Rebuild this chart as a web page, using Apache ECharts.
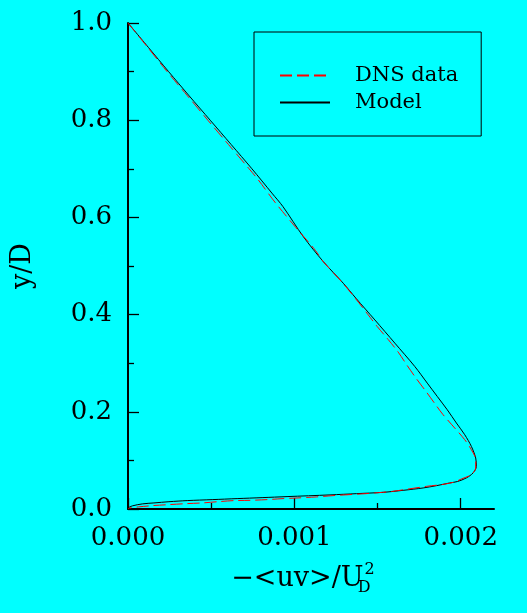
<!DOCTYPE html>
<html>
<head>
<meta charset="utf-8">
<script src="https://cdn.jsdelivr.net/npm/echarts@6.0.0/dist/echarts.min.js"></script>
<style>
html,body{margin:0;padding:0;background:#00FFFF;}
#chart{width:527px;height:613px;}
</style>
</head>
<body>
<div id="chart"></div>
<script>
// Model curve: -<uv>/U_D^2 (x) vs y/D (y), in drawing order
var modelX = [0, 0.000122, 0.000244, 0.000368, 0.000494, 0.00062, 0.000745, 0.000865, 0.000932, 0.001054,
  0.001174, 0.001294, 0.00137, 0.001484, 0.001604, 0.001724, 0.001799, 0.001859, 0.001919, 0.001974,
  0.002024, 0.002064, 0.00209, 0.002094, 0.002074, 0.002034, 0.00198, 0.001934, 0.001854, 0.001774,
  0.001654, 0.001534, 0.001374, 0.001214, 0.000956, 0.000806, 0.000656, 0.000506, 0.000356, 0.000246,
  0.000156, 0.000086, 0.000026, 0];
var modelY = [1.0, 0.95, 0.9, 0.85, 0.8, 0.75, 0.7, 0.65, 0.622, 0.5603,
  0.509, 0.4645, 0.4337, 0.389, 0.3413, 0.2932, 0.259, 0.2316, 0.2042, 0.1769,
  0.1529, 0.1288, 0.105, 0.0877, 0.0742, 0.0639, 0.0565, 0.0536, 0.048, 0.0433,
  0.0384, 0.0343, 0.0316, 0.029, 0.0255, 0.0234, 0.0214, 0.0193, 0.0173, 0.015,
  0.0125, 0.0105, 0.0064, 0.0023];

// DNS data
var dnsX = [0, 0.000118, 0.000235, 0.000358, 0.00048, 0.000604, 0.000728, 0.000784, 0.000884, 0.001008,
  0.001074, 0.001128, 0.001174, 0.001292, 0.001366, 0.001444, 0.001498, 0.001564, 0.001624, 0.001678,
  0.001734, 0.001794, 0.001848, 0.001894, 0.001964, 0.002024, 0.002064, 0.00209, 0.00209, 0.002064,
  0.002004, 0.001964, 0.001894, 0.001794, 0.001592, 0.001508, 0.00143, 0.001334, 0.001232, 0.001134,
  0.001022, 0.000932, 0.000836, 0.000734, 0.000638, 0.000546, 0.000446, 0.00035, 0.000246, 0.00015,
  0.000062, 0.00001, 0];
var dnsY = [1.0, 0.95, 0.9, 0.85, 0.8, 0.75, 0.7, 0.6768, 0.631, 0.5796,
  0.5535, 0.5315, 0.509, 0.4645, 0.4337, 0.3995, 0.3754, 0.3487, 0.3228, 0.2953,
  0.2679, 0.2406, 0.2151, 0.194, 0.1666, 0.1426, 0.122, 0.1015, 0.0844, 0.0707,
  0.0618, 0.0557, 0.0507, 0.0466, 0.0364, 0.0337, 0.0316, 0.0296, 0.0275, 0.0249,
  0.0228, 0.0214, 0.0193, 0.0179, 0.0173, 0.0152, 0.0125, 0.011, 0.009, 0.007,
  0.0043, 0.002, 0];

var xMajorTicks = [0, 0.001, 0.002];
var xMinorTicks = [0.0005, 0.0015];
var seriesNames = ['DNS data', 'Model'];

function pairs(xs, ys) { return xs.map(function (x, i) { return [x, ys[i]]; }); }

var FONT = 'DejaVu Serif';
var chart = echarts.init(document.getElementById('chart'), null, {renderer: 'canvas'});
var tickStyle = {color: '#000', width: 1.3};

chart.setOption({
  backgroundColor: '#00FFFF',
  animation: false,
  grid: {left: 128, right: 33, top: 23, bottom: 104, containLabel: false},
  legend: {
    orient: 'vertical', left: 254, top: 32,
    padding: [33, 23, 23, 25],
    borderColor: '#000', borderWidth: 1,
    itemWidth: 50, itemHeight: 14, itemGap: 6,
    itemStyle: {opacity: 0},
    textStyle: {fontFamily: FONT, fontSize: 21, color: '#000', padding: [0, 0, 0, 20]},
    data: seriesNames
  },
  xAxis: [{
    type: 'value', min: 0, max: 0.0022, interval: 0.001, position: 'bottom',
    axisLine: {lineStyle: {color: '#000', width: 2}},
    axisTick: {inside: true, length: 11, lineStyle: tickStyle, customValues: xMajorTicks},
    axisLabel: {customValues: xMajorTicks, formatter: function (v) { return v.toFixed(3); },
      fontFamily: FONT, fontSize: 26, color: '#000', margin: 16},
    splitLine: {show: false},
    name: '{m|\u2212<uv>/U}{d|D}{s|2}', nameLocation: 'middle', nameGap: 53,
    nameTextStyle: {
      padding: [0, 16, 0, 0],
      rich: {
        m: {fontFamily: FONT, fontSize: 27, color: '#000', lineHeight: 34, verticalAlign: 'middle'},
        d: {fontFamily: FONT, fontSize: 16, color: '#000', lineHeight: 14, verticalAlign: 'bottom', width: 1, align: 'left'},
        s: {fontFamily: FONT, fontSize: 16, color: '#000', lineHeight: 16, verticalAlign: 'top'}
      }
    }
  }, {
    type: 'value', min: 0, max: 0.0022, position: 'bottom',
    axisLine: {show: false},
    axisTick: {inside: true, length: 6, lineStyle: tickStyle, customValues: xMinorTicks},
    axisLabel: {show: false},
    splitLine: {show: false}
  }],
  yAxis: {
    type: 'value', min: 0, max: 1, interval: 0.2,
    axisLine: {lineStyle: {color: '#000', width: 2}},
    axisTick: {inside: true, length: 11, lineStyle: tickStyle},
    minorTick: {show: true, splitNumber: 2, length: 6, lineStyle: tickStyle},
    axisLabel: {formatter: function (v) { return v.toFixed(1); },
      fontFamily: FONT, fontSize: 26, color: '#000', margin: 16},
    splitLine: {show: false},
    minorSplitLine: {show: false},
    name: 'y/D', nameLocation: 'middle', nameGap: 92, nameRotate: 90,
    nameTextStyle: {fontFamily: FONT, fontSize: 27, color: '#000'}
  },
  series: [{
    name: seriesNames[0], type: 'line', xAxisIndex: 0, data: pairs(dnsX, dnsY),
    showSymbol: false, symbol: 'none', smooth: 0.3,
    lineStyle: {color: '#FF0000', width: 1, type: [12, 5]},
    itemStyle: {color: '#FF0000'}, z: 3
  }, {
    name: seriesNames[1], type: 'line', xAxisIndex: 0, data: pairs(modelX, modelY),
    showSymbol: false, symbol: 'none', smooth: 0.3,
    lineStyle: {color: '#000', width: 1},
    itemStyle: {color: '#000'}, z: 2
  }]
});
</script>
</body>
</html>
